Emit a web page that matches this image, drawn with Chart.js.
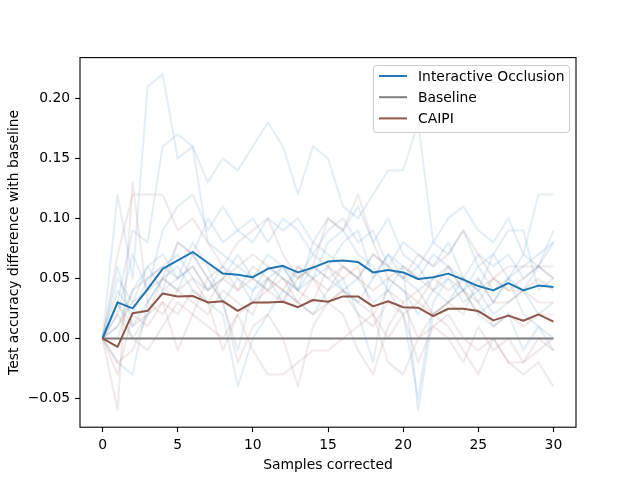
<!DOCTYPE html>
<html><head><meta charset="utf-8">
<script src="https://cdn.jsdelivr.net/npm/chart.js@4"></script>
<style>html,body{margin:0;padding:0;background:#fff}canvas{display:block}</style>
</head><body>
<canvas id="c" width="640" height="480"></canvas>
<script>
const samples = [0,1,2,3,4,5,6,7,8,9,10,11,12,13,14,15,16,17,18,19,20,21,22,23,24,25,26,27,28,29,30];
const xTicks = [0,5,10,15,20,25,30];
const yTicks = [-0.05,0,0.05,0.10,0.15,0.20];
const seriesNames = ['Interactive Occlusion','Baseline','CAIPI'];

const occlusionMean = [0,0.030,0.025,0.041,0.058,0.065,0.072,0.063,0.054,0.053,0.051,0.058,0.0605,0.055,0.059,0.064,0.065,0.0636,0.055,0.057,0.055,0.0495,0.051,0.054,0.049,0.0436,0.040,0.046,0.040,0.044,0.0428];
const baselineMean = [0,0,0,0,0,0,0,0,0,0,0,0,0,0,0,0,0,0,0,0,0,0,0,0,0,0,0,0,0,0,0];
const caipiMean = [0,-0.007,0.021,0.023,0.0375,0.035,0.0353,0.030,0.031,0.023,0.030,0.030,0.0305,0.026,0.032,0.0305,0.035,0.035,0.0267,0.031,0.026,0.0256,0.0186,0.0247,0.0247,0.0228,0.015,0.019,0.0147,0.020,0.014];

const occRun1 = [0,0.12,0.05,0.21,0.22,0.15,0.16,0.08,0.07,0.06,0.05,0.07,0.06,0.04,0.08,0.07,0.06,0.05,0.07,0.06,0.05,0.04,0.05,0.06,0.04,0.05,0.03,0.05,0.04,0.06,0.05];
const occRun2 = [0,0.03,0.09,0.08,0.16,0.17,0.16,0.13,0.15,0.14,0.16,0.18,0.16,0.12,0.16,0.15,0.11,0.10,0.12,0.14,0.14,0.18,0.08,0.10,0.11,0.09,0.08,0.10,0.07,0.12,0.12];
const occRun3 = [0,0.02,0.07,0.04,0.09,0.11,0.12,0.09,0.11,0.09,0.10,0.08,0.10,0.09,0.07,0.09,0.10,0.08,0.09,0.06,0.08,0.07,0.06,0.08,0.05,0.07,0.06,0.07,0.05,0.06,0.09];
const occRun4 = [0,0.05,0.03,0.06,0.07,0.05,0.08,0.06,0.03,-0.01,0.04,0.05,0.03,0.06,0.05,0.08,0.09,0.07,0.06,0.04,0.02,-0.05,0.03,0.05,0.04,0.02,0.03,0.05,0.02,0.01,0.00];
const occRun5 = [0,-0.02,-0.03,0.03,0.05,0.06,0.04,0.03,0.02,-0.04,0.00,0.02,0.04,0.03,0.02,0.04,0.05,0.02,-0.02,0.05,0.04,0.02,0.04,0.03,0.05,0.03,0.01,0.02,-0.01,0.01,-0.01];
const occRun6 = [0,0.01,0.04,0.06,0.04,0.08,0.07,0.10,0.08,0.09,0.08,0.10,0.09,0.10,0.08,0.10,0.09,0.11,0.08,0.10,0.07,0.06,0.08,0.07,0.09,0.06,0.07,0.05,0.07,0.06,0.08];
const occRun7 = [0,0.04,0.02,0.05,0.06,0.07,0.05,0.04,0.06,0.05,0.03,0.05,0.06,0.04,0.05,0.06,0.04,0.05,0.03,0.04,0.06,-0.06,0.02,0.03,0.04,0.06,0.04,0.05,0.06,0.07,0.08];
const occRun8 = [0,0.03,0.00,0.02,0.04,0.05,0.06,0.04,0.05,0.07,0.05,0.04,0.06,0.05,0.07,0.06,0.08,0.09,0.05,0.07,0.06,0.05,0.07,0.06,0.05,0.04,0.07,0.09,0.09,0.04,0.05];
const occRun9 = [0,0.06,0.01,0.03,0.05,0.04,0.07,0.05,0.03,0.05,0.04,0.06,0.05,0.04,0.06,0.05,0.04,0.03,0.05,0.07,0.05,0.06,0.04,0.05,0.03,0.04,0.02,0.03,0.04,0.02,0.03];

const caipiRun1 = [0,0.07,0.12,0.12,0.12,0.09,0.10,0.08,0.06,0.08,0.09,0.10,0.07,0.05,0.06,0.10,0.09,0.12,0.08,0.05,0.06,0.05,0.04,0.06,0.04,0.03,0.05,0.04,0.05,0.06,0.05];
const caipiRun2 = [0,-0.06,0.13,0.03,0.02,0.04,0.03,0.02,0.04,0.03,0.02,0.05,0.04,0.03,0.05,0.03,0.04,0.02,0.01,0.03,0.02,-0.02,0.01,0.00,-0.02,0.01,-0.01,0.00,-0.02,0.00,-0.01];
const caipiRun3 = [0,-0.03,0.02,0.01,0.03,-0.01,0.02,0.01,0.00,0.02,-0.01,-0.03,-0.03,-0.02,-0.01,-0.01,0.00,0.01,0.02,-0.02,-0.03,0.00,0.01,0.02,0.00,-0.01,0.00,-0.02,-0.02,-0.01,0.00];
const caipiRun4 = [0,0.02,0.00,-0.01,0.01,0.03,0.02,0.05,0.03,-0.02,0.01,0.02,0.00,-0.04,0.01,0.03,0.02,-0.01,-0.03,0.01,0.03,0.00,0.02,0.01,-0.01,-0.03,0.00,-0.02,-0.03,-0.02,-0.04];
const caipiRun5 = [0,0.00,0.04,0.05,0.06,0.05,0.06,0.04,0.05,0.04,0.05,0.04,0.03,0.05,0.06,0.05,0.06,0.05,0.04,0.05,0.04,0.03,0.05,0.04,0.05,0.04,0.05,0.04,0.04,0.05,0.04];
const caipiRun6 = [0,0.03,0.01,0.02,0.05,0.08,0.07,0.05,0.06,0.04,0.06,0.05,0.04,0.06,0.05,0.04,0.06,0.05,0.07,0.06,0.05,0.07,0.06,0.07,0.09,0.07,0.05,0.06,0.06,0.06,0.06];
const caipiRun7 = [0,-0.02,-0.01,0.02,0.03,0.02,0.04,0.03,-0.01,0.02,0.03,0.04,0.05,0.03,0.02,0.03,0.04,0.03,0.02,0.00,0.02,0.03,0.02,0.03,0.04,0.02,0.01,0.02,0.01,0.02,0.02];
const caipiRun8 = [0,0.01,0.03,0.04,0.05,0.04,0.05,0.03,0.05,0.06,0.07,0.06,0.05,0.04,0.03,0.06,0.05,0.06,0.02,0.04,0.03,0.04,0.02,0.03,0.02,0.05,0.03,0.03,0.04,0.03,0.03];

const occRuns = [occRun1,occRun2,occRun3,occRun4,occRun5,occRun6,occRun7,occRun8,occRun9];
const caipiRuns = [caipiRun1,caipiRun2,caipiRun3,caipiRun4,caipiRun5,caipiRun6,caipiRun7,caipiRun8];

const BLUE = '#1f77b4', GRAY = '#7f7f7f', BROWN = '#8c564b';
const FONT = '"DejaVu Sans", sans-serif';
const FS = 13.9;

const pts = arr => arr.map((y,i) => ({x: samples[i], y}));
const lineDs = (arr, color, label, w) => ({
  label, data: pts(arr), borderColor: color, borderWidth: w, pointRadius: 0,
  fill: false, tension: 0, borderJoinStyle: 'round', borderCapStyle: 'butt'
});

const datasets = [
  lineDs(caipiMean, BROWN, seriesNames[2], 2),
  lineDs(baselineMean, GRAY, seriesNames[1], 2),
  lineDs(occlusionMean, BLUE, seriesNames[0], 2),
];
caipiRuns.forEach(r => datasets.push(lineDs(r, 'rgba(140,86,75,0.12)', '', 2)));
occRuns.forEach(r => datasets.push(lineDs(r, 'rgba(31,119,180,0.12)', '', 2)));

const legendItems = [[seriesNames[0], BLUE],[seriesNames[1], GRAY],[seriesNames[2], BROWN]];

const framePlugin = {
  id: 'frameLegend',
  afterDraw(chart) {
    const {ctx, chartArea: a} = chart;
    ctx.save();
    ctx.strokeStyle = '#000';
    ctx.lineWidth = 1.1;
    ctx.strokeRect(a.left, a.top, a.right - a.left, a.bottom - a.top);
    const bx = 373.5, by = 65.5, bw = 196, bh = 67, r = 3;
    ctx.beginPath();
    ctx.moveTo(bx + r, by);
    ctx.lineTo(bx + bw - r, by); ctx.arcTo(bx + bw, by, bx + bw, by + r, r);
    ctx.lineTo(bx + bw, by + bh - r); ctx.arcTo(bx + bw, by + bh, bx + bw - r, by + bh, r);
    ctx.lineTo(bx + r, by + bh); ctx.arcTo(bx, by + bh, bx, by + bh - r, r);
    ctx.lineTo(bx, by + r); ctx.arcTo(bx, by, bx + r, by, r);
    ctx.closePath();
    ctx.fillStyle = 'rgba(255,255,255,0.8)';
    ctx.fill();
    ctx.strokeStyle = '#cccccc';
    ctx.lineWidth = 1;
    ctx.stroke();
    ctx.font = FS + 'px ' + FONT;
    ctx.textBaseline = 'middle';
    ctx.textAlign = 'left';
    legendItems.forEach(([label, color], i) => {
      const y = 76 + i * 21.2;
      ctx.strokeStyle = color;
      ctx.lineWidth = 2;
      ctx.beginPath(); ctx.moveTo(379, y); ctx.lineTo(407, y); ctx.stroke();
      ctx.fillStyle = '#000';
      ctx.fillText(label, 418, y + 1);
    });
    ctx.restore();
  }
};

const fmtY = v => { const s = Number(v).toFixed(2); return v < 0 ? '\u2212' + s.slice(1) : s; };

new Chart(document.getElementById('c'), {
  type: 'line',
  data: { datasets },
  options: {
    responsive: false,
    animation: false,
    events: [],
    layout: { padding: { left: 0, right: 64, top: 57.6, bottom: 0 } },
    plugins: { legend: { display: false }, tooltip: { enabled: false } },
    scales: {
      x: {
        type: 'linear', min: -1.5, max: 31.5,
        afterBuildTicks: ax => { ax.ticks = xTicks.map(v => ({value: v})); },
        afterFit: s => { s.height = 52.8; },
        border: { display: false },
        grid: { display: true, drawOnChartArea: false, drawTicks: true, tickLength: 4.9, tickWidth: 1.1, tickColor: '#000' },
        ticks: { color: '#000', font: { family: FONT, size: FS }, padding: 4.9, maxRotation: 0, autoSkip: false, callback: v => String(v) },
        title: { display: true, text: 'Samples corrected', color: '#000', font: { family: FONT, size: FS }, padding: { top: 0, bottom: 6.5 } }
      },
      y: {
        type: 'linear', min: -0.074, max: 0.234,
        afterBuildTicks: ax => { ax.ticks = yTicks.map(v => ({value: v})); },
        afterFit: s => { s.width = 80; },
        border: { display: false },
        grid: { display: true, drawOnChartArea: false, drawTicks: true, tickLength: 4.9, tickWidth: 1.1, tickColor: '#000' },
        ticks: { color: '#000', font: { family: FONT, size: FS }, padding: 4.9, autoSkip: false, callback: v => fmtY(v) },
        title: { display: true, text: 'Test accuracy difference with baseline', color: '#000', font: { family: FONT, size: FS }, padding: { top: 6, bottom: 0 } }
      }
    }
  },
  plugins: [framePlugin]
});
</script>
</body></html>
